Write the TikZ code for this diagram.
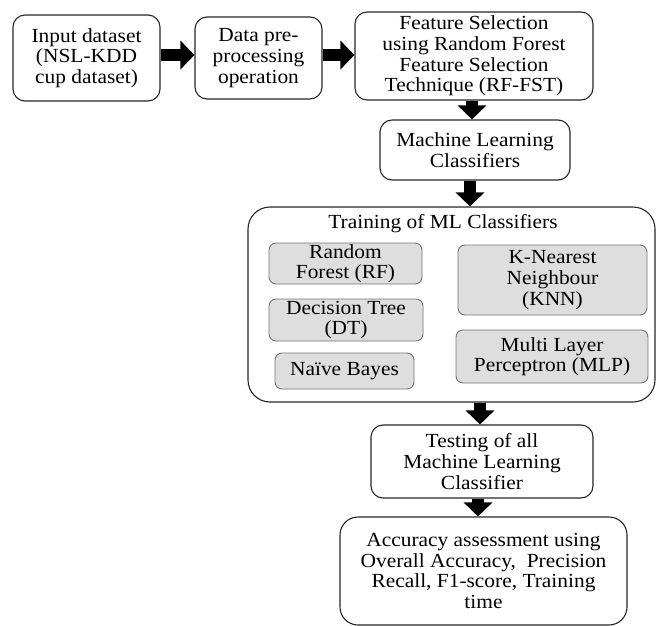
\documentclass[tikz,border=0pt]{standalone}
\usepackage{fontspec}
\setmainfont[FakeStretch=1.07]{Liberation Serif}
\usetikzlibrary{arrows.meta,calc}
\begin{document}
\begin{tikzpicture}[x=1pt,y=-1pt,
  box/.style={draw=black!85,line width=1.1pt,rounded corners=12pt,align=center,inner sep=1pt,font=\fontsize{20}{20.6}\selectfont},
  inbox/.style={box,draw=black!55,line width=0.9pt,fill=black!13,rounded corners=7pt},
  bigarrow/.style={line width=12pt,-{Triangle[length=14pt,width=28pt]},black}]
\useasboundingbox (0,0) rectangle (659,626);
\node[box,minimum width=147pt,minimum height=86pt] (b1) at (86.5,58) {Input dataset\\(NSL-KDD\\cup dataset)};
\node[box,minimum width=127pt,minimum height=82pt] (b2) at (258.5,58) {Data pre-\\processing\\operation};
\node[box,minimum width=238pt,minimum height=88pt] (b3) at (474,56) {Feature Selection\\using Random Forest\\Feature Selection\\Technique (RF-FST)};
\node[box,minimum width=190pt,minimum height=60pt] (b4) at (475,150) {Machine Learning\\Classifiers};
\node[box,rounded corners=22pt,minimum width=407pt,minimum height=195pt] (train) at (451.5,304.5) {};
\node[align=center,font=\fontsize{20}{20.6}\selectfont] (ttl) at (443,224) {Training of ML Classifiers};
\node[inbox,minimum width=153pt,minimum height=41pt] (rf) at (345.5,263.5) {Random\\Forest (RF)};
\node[inbox,minimum width=154pt,minimum height=42pt] (dt) at (346,320) {Decision Tree\\(DT)};
\node[inbox,minimum width=139pt,minimum height=36pt] (nb) at (344.5,371) {Naïve Bayes};
\node[inbox,minimum width=189pt,minimum height=70pt] (knn) at (552.5,280) {K-Nearest\\Neighbour\\(KNN)};
\node[inbox,minimum width=192pt,minimum height=53pt] (mlp) at (552,356.5) {Multi Layer\\Perceptron (MLP)};
\node[box,minimum width=222pt,minimum height=73pt] (test) at (482,461.5) {Testing of all\\Machine Learning\\Classifier};
\node[box,rounded corners=18pt,minimum width=287pt,minimum height=108pt] (acc) at (483.5,571) {Accuracy assessment using\\Overall Accuracy,\ \ Precision\\Recall, F1-score, Training\\time};
\draw[bigarrow] ($(b1.east)+(0,-3)$) -- ($(b2.west)+(0,-3)$);
\draw[bigarrow] ($(b2.east)+(0,-3)$) -- ($(b2.east -| b3.west)+(0,-3)$);
\draw[bigarrow] ($(b3.south)+(-2,0)$) -- ($(b3.south |- b4.north)+(-2,0)$);
\draw[bigarrow] ($(b4.south)+(-5,0)$) -- ($(b4.south |- train.north)+(-5,0)$);
\draw[bigarrow] ($(test.north |- train.south)+(-2,0)$) -- ($(test.north)+(-2,0)$);
\draw[bigarrow] ($(test.south)+(-4,0)$) -- ($(test.south |- acc.north)+(-4,0)$);
\end{tikzpicture}
\end{document}
